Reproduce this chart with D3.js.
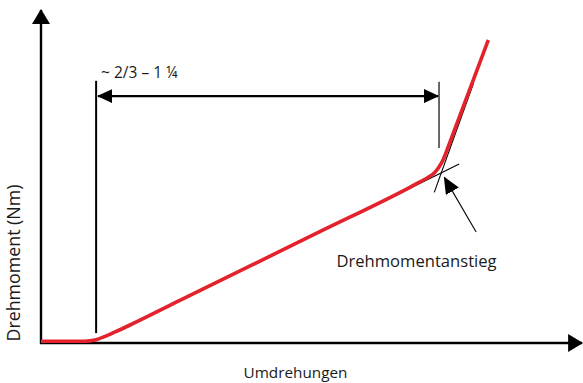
<!DOCTYPE html>
<html>
<head>
<meta charset="utf-8">
<script src="https://cdn.jsdelivr.net/npm/d3@7"></script>
<style>
  html, body { margin: 0; padding: 0; background: #fff; }
  svg { display: block; }
  text { font-family: "Open Sans", "Noto Sans", sans-serif; fill: #1a1a1a; }
</style>
</head>
<body>
<svg id="chart" width="583" height="383"></svg>
<script>
// Torque build-up while tightening: flat, linear rise, then a sharp increase
const revolutions = [0, 0.83, 1.02, 1.21, 1.40, 1.68, 2.62, 5.26, 6.96, 7.15, 7.30, 7.42, 7.51, 7.59, 7.66, 7.76, 8.44];
const torque      = [0.06, 0.06, 0.10, 0.22, 0.37, 0.60, 1.42, 3.71, 5.19, 5.37, 5.52, 5.67, 5.87, 6.12, 6.43, 6.90, 10.10];

// Tangents to the two straight parts of the curve
const shallowTangentRev    = [6.21, 7.89];
const shallowTangentTorque = [4.50, 5.97];
const steepTangentRev      = [7.42, 8.16];
const steepTangentTorque   = [5.02, 8.66];

// Range markers (start of rise, start of sharp increase)
const startMarkRev = 1.04, startMarkTorque = [0.33, 8.74];
const endMarkRev   = 7.51, endMarkTorque   = [6.50, 8.71];
const rangeArrowTorque = 8.23;

// Pointer to the torque increase
const pointerRev    = [8.21, 7.61];
const pointerTorque = [3.70, 5.52];

const axisEnds   = [10.21, 11.1];
const xTitle     = "Umdrehungen";
const yTitle     = "Drehmoment (Nm)";
const rangeLabel = "~ 2/3 – 1 ¼";
const noteLabel  = "Drehmomentanstieg";

const svg = d3.select("#chart");
const x = d3.scaleLinear().domain([0, 10]).range([41, 571]);
const y = d3.scaleLinear().domain([0, 10]).range([343, 43]);

// Arrowhead markers (tip sits at the line end)
const defs = svg.append("defs");
function arrowMarker(id, len, wid, fill) {
  defs.append("marker")
    .attr("id", id)
    .attr("markerUnits", "userSpaceOnUse")
    .attr("viewBox", `0 ${-wid / 2} ${len} ${wid}`)
    .attr("refX", len - 1)
    .attr("refY", 0)
    .attr("markerWidth", len)
    .attr("markerHeight", wid)
    .attr("orient", "auto-start-reverse")
    .append("path")
    .attr("d", `M0,${-wid / 2}L${len},0L0,${wid / 2}Z`)
    .attr("fill", fill);
}
arrowMarker("axisArrow", 15, 18, "#000");
arrowMarker("dimArrow", 15, 14, "#000");
arrowMarker("pointArrow", 17, 15, "#000");

// Axes (no ticks), arrow-tipped
svg.append("line")
  .attr("x1", x(0) - 1).attr("y1", y(0))
  .attr("x2", x(axisEnds[0])).attr("y2", y(0))
  .attr("stroke", "#000").attr("stroke-width", 2.4)
  .attr("marker-end", "url(#axisArrow)");
svg.append("line")
  .attr("x1", x(0)).attr("y1", y(0) + 1)
  .attr("x2", x(0)).attr("y2", y(axisEnds[1]))
  .attr("stroke", "#000").attr("stroke-width", 2.4)
  .attr("marker-end", "url(#axisArrow)");

// Vertical range markers
svg.append("line")
  .attr("x1", x(startMarkRev)).attr("x2", x(startMarkRev))
  .attr("y1", y(startMarkTorque[0])).attr("y2", y(startMarkTorque[1]))
  .attr("stroke", "#000").attr("stroke-width", 2);
svg.append("line")
  .attr("x1", x(endMarkRev)).attr("x2", x(endMarkRev))
  .attr("y1", y(endMarkTorque[0])).attr("y2", y(endMarkTorque[1]))
  .attr("stroke", "#444").attr("stroke-width", 1.6);

// Double-headed range arrow
svg.append("line")
  .attr("x1", x(startMarkRev) + 2).attr("x2", x(endMarkRev) - 1)
  .attr("y1", y(rangeArrowTorque)).attr("y2", y(rangeArrowTorque))
  .attr("stroke", "#000").attr("stroke-width", 2.4)
  .attr("marker-start", "url(#dimArrow)")
  .attr("marker-end", "url(#dimArrow)");

svg.append("text")
  .attr("x", x(startMarkRev) + 5)
  .attr("y", y(startMarkTorque[1]) - 3)
  .attr("font-size", 15.5)
  .text(rangeLabel);

// Tangent lines
const seg = d3.line().x(d => x(d[0])).y(d => y(d[1]));
svg.append("path")
  .attr("d", seg(d3.zip(shallowTangentRev, shallowTangentTorque)))
  .attr("stroke", "#000").attr("stroke-width", 1.1).attr("fill", "none");
svg.append("path")
  .attr("d", seg(d3.zip(steepTangentRev, steepTangentTorque)))
  .attr("stroke", "#000").attr("stroke-width", 1.1).attr("fill", "none");

// Torque curve
const curve = d3.line()
  .x(d => x(d[0])).y(d => y(d[1]))
  .curve(d3.curveMonotoneX);
svg.append("path")
  .attr("d", curve(d3.zip(revolutions, torque)))
  .attr("fill", "none")
  .attr("stroke", "#e3222b")
  .attr("stroke-width", 3.6)
  .attr("stroke-linejoin", "round");

// Pointer to the torque increase
svg.append("line")
  .attr("x1", x(pointerRev[0])).attr("y1", y(pointerTorque[0]))
  .attr("x2", x(pointerRev[1])).attr("y2", y(pointerTorque[1]))
  .attr("stroke", "#000").attr("stroke-width", 1.1)
  .attr("marker-end", "url(#pointArrow)");

svg.append("text")
  .attr("x", 416.5).attr("y", 267)
  .attr("text-anchor", "middle")
  .attr("font-size", 16.6)
  .text(noteLabel);

// Axis titles
svg.append("text")
  .attr("x", 295.5).attr("y", 378)
  .attr("text-anchor", "middle")
  .attr("font-size", 15.3)
  .text(xTitle);
svg.append("text")
  .attr("transform", "translate(19.5,263) rotate(-90)")
  .attr("text-anchor", "middle")
  .attr("font-size", 17.8)
  .text(yTitle);
</script>
</body>
</html>
